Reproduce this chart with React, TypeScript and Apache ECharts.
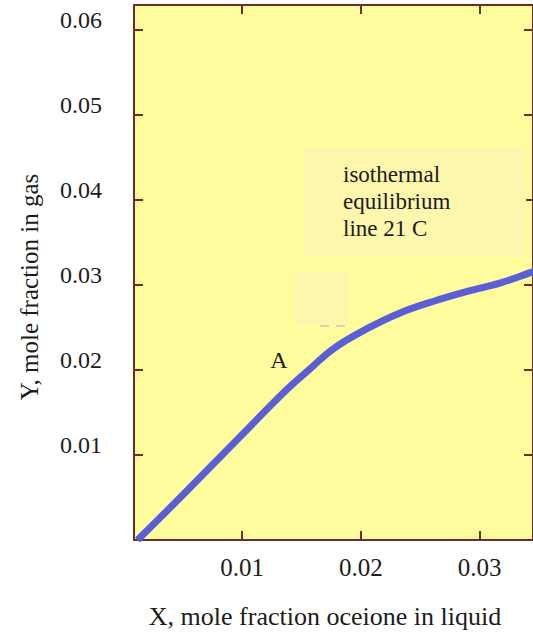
import React, { useEffect, useRef } from "react";
import * as echarts from "echarts";

const xValues = [0.0012, 0.0048, 0.0098, 0.0137, 0.0157, 0.0178, 0.0206, 0.0233, 0.0262, 0.0289, 0.0317, 0.0342, 0.0346];
const yValues = [0.0, 0.005, 0.0121, 0.0176, 0.0201, 0.0226, 0.0249, 0.0267, 0.0281, 0.0292, 0.0302, 0.0314, 0.0316];
const xTicks = [0.01, 0.02, 0.03];
const yTicks = [0.01, 0.02, 0.03, 0.04, 0.05, 0.06];
const xTitle = "X, mole fraction oceione in liquid";
const yTitle = "Y, mole fraction in gas";
const noteLines = ["isothermal", "equilibrium", "line 21 C"];
const pointLabel = "A";

const FONT = "Liberation Serif";
const AXIS = "#6a2f2a";
const TEXT = "#1c1c1c";

export default function App() {
  const ref = useRef<HTMLDivElement>(null);
  useEffect(() => {
    if (!ref.current) return;
    const chart = echarts.init(ref.current, null, { renderer: "svg" });
    const fmt = (v: number) => v.toFixed(2);
    const tickCommon = { show: true, inside: true, length: 9, lineStyle: { color: AXIS, width: 2 } };
    chart.setOption({
      animation: false,
      textStyle: { fontFamily: FONT },
      grid: {
        left: 134,
        right: -4,
        top: 5,
        bottom: 95,
        show: true,
        backgroundColor: "#fffc9d",
        borderWidth: 0,
      },
      xAxis: [
        {
          type: "value",
          min: 0.0009,
          max: 0.0345,
          position: "bottom",
          axisLine: { show: true, lineStyle: { color: AXIS, width: 2 } },
          axisTick: { ...tickCommon, customValues: xTicks },
          axisLabel: {
            customValues: xTicks,
            formatter: fmt,
            fontFamily: FONT,
            fontSize: 25,
            color: TEXT,
            margin: 15,
          },
          splitLine: { show: false },
        },
        {
          type: "value",
          min: 0.0009,
          max: 0.0345,
          position: "top",
          axisLine: { show: true, onZero: false, lineStyle: { color: AXIS, width: 2 } },
          axisTick: { ...tickCommon, customValues: xTicks },
          axisLabel: { show: false },
          splitLine: { show: false },
        },
      ],
      yAxis: [
        {
          type: "value",
          min: 0,
          max: 0.0629,
          position: "left",
          axisLine: { show: true, lineStyle: { color: AXIS, width: 2 } },
          axisTick: { ...tickCommon, customValues: yTicks },
          axisLabel: {
            customValues: yTicks,
            formatter: fmt,
            fontFamily: FONT,
            fontSize: 24,
            color: TEXT,
            margin: 32,
            verticalAlign: "bottom",
            lineHeight: 20,
          },
          splitLine: { show: false },
        },
        {
          type: "value",
          min: 0,
          max: 0.0629,
          position: "right",
          axisLine: { show: true, onZero: false, lineStyle: { color: AXIS, width: 2 } },
          axisTick: { ...tickCommon, customValues: yTicks },
          axisLabel: { show: false },
          splitLine: { show: false },
        },
      ],
      graphic: [
        {
          type: "rect",
          shape: { x: 303, y: 147, width: 223, height: 110 },
          style: { fill: "#fdf6ad" },
          z: 1,
        },
        {
          type: "rect",
          shape: { x: 294, y: 273, width: 54, height: 52 },
          style: { fill: "#fdf6ad" },
          z: 1,
        },
        {
          type: "line",
          shape: { x1: 320, y1: 326, x2: 329, y2: 326 },
          style: { stroke: "#cfc7a6", lineWidth: 1.5 },
          z: 1,
        },
        {
          type: "line",
          shape: { x1: 336, y1: 326, x2: 345, y2: 326 },
          style: { stroke: "#cfc7a6", lineWidth: 1.5 },
          z: 1,
        },
        {
          type: "text",
          x: 343,
          y: 161,
          z: 2,
          style: {
            text: noteLines.join("\n"),
            fontFamily: FONT,
            fontSize: 23,
            lineHeight: 27,
            fill: TEXT,
            align: "left",
            verticalAlign: "top",
          },
        },
        {
          type: "text",
          x: 279,
          y: 360,
          z: 2,
          style: {
            text: pointLabel,
            fontFamily: FONT,
            fontSize: 24,
            fill: TEXT,
            align: "center",
            verticalAlign: "middle",
          },
        },
        {
          type: "text",
          x: 325,
          y: 616,
          style: {
            text: xTitle,
            fontFamily: FONT,
            fontSize: 26,
            fill: TEXT,
            align: "center",
            verticalAlign: "middle",
          },
        },
        {
          type: "text",
          x: 29,
          y: 287,
          rotation: Math.PI / 2,
          style: {
            text: yTitle,
            fontFamily: FONT,
            fontSize: 25,
            fill: TEXT,
            align: "center",
            verticalAlign: "middle",
          },
        },
      ],
      series: [
        {
          type: "line",
          xAxisIndex: 0,
          yAxisIndex: 0,
          data: xValues.map((x, i) => [x, yValues[i]]),
          smooth: 0.4,
          showSymbol: false,
          symbol: "none",
          lineStyle: { color: "#5a5fd6", width: 7 },
          z: 3,
        },
      ],
    });
    return () => chart.dispose();
  }, []);
  return <div ref={ref} style={{ position: "absolute", left: 0, top: 0, width: 533, height: 635 }} />;
}
